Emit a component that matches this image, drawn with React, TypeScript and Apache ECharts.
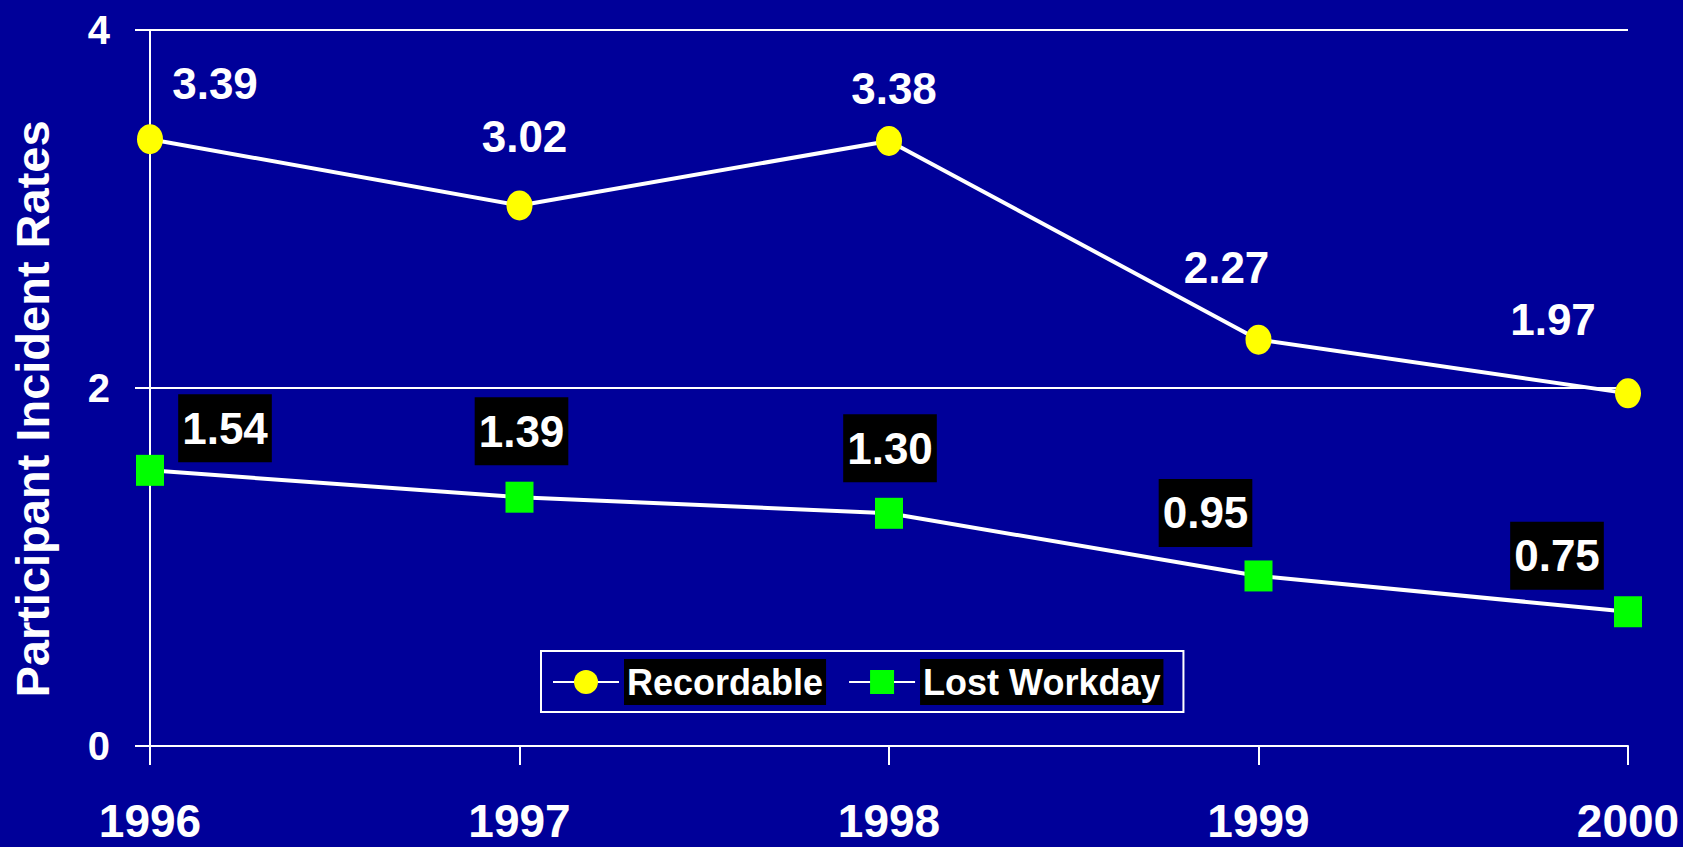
import React, { useEffect, useRef } from "react";
import * as echarts from "echarts";

const years = ["1996", "1997", "1998", "1999", "2000"];
const recordable = [3.39, 3.02, 3.38, 2.27, 1.97];
const lostWorkday = [1.54, 1.39, 1.3, 0.95, 0.75];
const yMin = 0;
const yMax = 4;
const yInterval = 2;

// label placement offsets (style only)
const recOffsets = [
  [65, -56],
  [5, -69],
  [5, -52],
  [-32, -72],
  [-75, -74],
];
const lostOffsets = [
  [75, -42],
  [2, -66],
  [1, -65],
  [-53, -63],
  [-71, -56],
];

const FONT = 'Arial, "Liberation Sans", sans-serif';
const BG = "#000099";
const ELLIPSE = "path://M0,15A13,15,0,1,1,26,15A13,15,0,1,1,0,15Z";

export default function App() {
  const ref = useRef<HTMLDivElement>(null);
  useEffect(() => {
    if (!ref.current) return;
    const chart = echarts.init(ref.current, undefined, { renderer: "svg" });
    chart.setOption({
      animation: false,
      backgroundColor: BG,
      textStyle: { fontFamily: FONT },
      grid: {
        left: 150,
        right: 55,
        top: 30,
        bottom: 101,
        containLabel: false,
        outerBoundsMode: "none",
      },
      legend: {
        left: 541,
        top: 651,
        orient: "horizontal",
        padding: [8, 20, 7, 11],
        borderColor: "#ffffff",
        borderWidth: 2,
        backgroundColor: BG,
        itemWidth: 66,
        itemHeight: 30,
        itemGap: 22,
        selectedMode: false,
        textStyle: {
          color: "#ffffff",
          fontSize: 36,
          fontWeight: "bold",
          fontFamily: FONT,
          backgroundColor: "#000000",
          padding: [5, 3],
        },
        data: ["Recordable", "Lost Workday"],
      },
      xAxis: {
        type: "category",
        data: years,
        boundaryGap: false,
        axisLine: { show: true, lineStyle: { color: "#ffffff", width: 2 } },
        axisTick: { show: true, length: 19, lineStyle: { color: "#ffffff", width: 2 } },
        axisLabel: {
          color: "#ffffff",
          fontSize: 46,
          lineHeight: 46,
          fontWeight: "bold",
          fontFamily: FONT,
          margin: 52,
          interval: 0,
        },
        splitLine: { show: false },
      },
      yAxis: {
        type: "value",
        min: yMin,
        max: yMax,
        interval: yInterval,
        name: "Participant Incident Rates",
        nameLocation: "middle",
        nameGap: 94,
        nameTextStyle: {
          color: "#ffffff",
          fontSize: 47,
          fontWeight: "bold",
          fontFamily: FONT,
          padding: [0, 42, 0, 0],
        },
        axisLine: { show: true, lineStyle: { color: "#ffffff", width: 2 } },
        axisTick: { show: true, length: 15, lineStyle: { color: "#ffffff", width: 2 } },
        axisLabel: {
          color: "#ffffff",
          fontSize: 40,
          fontWeight: "bold",
          fontFamily: FONT,
          margin: 40,
        },
        splitLine: { show: true, lineStyle: { color: "#ffffff", width: 2 } },
      },
      series: [
        {
          name: "Recordable",
          type: "line",
          data: recordable.map((v, i) => ({ value: v, label: { offset: recOffsets[i] } })),
          symbol: ELLIPSE,
          symbolSize: [26, 30],
          itemStyle: { color: "#ffff00" },
          lineStyle: { color: "#ffffff", width: 4 },
          z: 3,
          label: {
            show: true,
            position: "inside",
            color: "#ffffff",
            fontSize: 44,
            fontWeight: "bold",
            fontFamily: FONT,
            formatter: (p: any) => Number(p.value).toFixed(2),
          },
        },
        {
          name: "Lost Workday",
          type: "line",
          data: lostWorkday.map((v, i) => ({ value: v, label: { offset: lostOffsets[i] } })),
          symbol: "rect",
          symbolSize: [28, 31],
          itemStyle: { color: "#00ff00" },
          lineStyle: { color: "#ffffff", width: 4 },
          z: 3,
          label: {
            show: true,
            position: "inside",
            color: "#ffffff",
            fontSize: 44,
            fontWeight: "bold",
            fontFamily: FONT,
            backgroundColor: "#000000",
            padding: [12, 4],
            formatter: (p: any) => Number(p.value).toFixed(2),
          },
        },
      ],
    });
    return () => chart.dispose();
  }, []);
  return (
    <div
      ref={ref}
      style={{ position: "fixed", left: 0, top: 0, width: "1683px", height: "847px" }}
    />
  );
}
